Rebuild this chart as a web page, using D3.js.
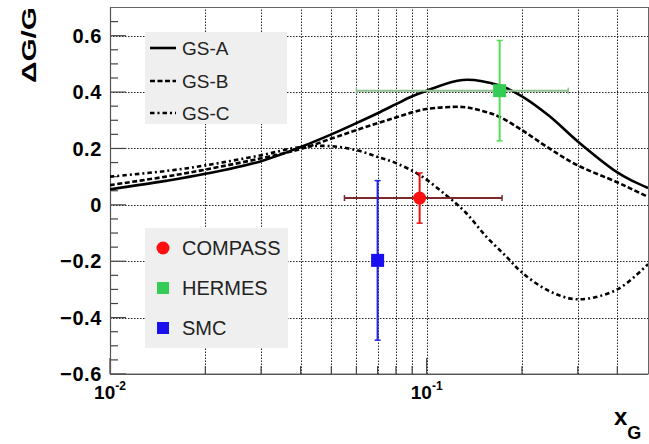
<!DOCTYPE html>
<html>
<head>
<meta charset="utf-8">
<script src="https://cdn.jsdelivr.net/npm/d3@7"></script>
<style>
  body { margin: 0; background: #fff; }
  text { font-family: "Liberation Sans", Arial, sans-serif; }
</style>
</head>
<body>
<div id="chart-area"></div>
<script>

// Curve data (x_G, DeltaG/G)
var gsA_x = [0.01, 0.015, 0.02, 0.03, 0.04, 0.05, 0.06, 0.07, 0.08, 0.09, 0.1, 0.13, 0.17, 0.2, 0.244, 0.3, 0.4, 0.45, 0.5];
var gsA_y = [0.055, 0.085, 0.11, 0.155, 0.205, 0.25, 0.29, 0.325, 0.357, 0.385, 0.405, 0.443, 0.423, 0.385, 0.315, 0.225, 0.115, 0.083, 0.06];

var gsB_x = [0.01, 0.015, 0.02, 0.03, 0.04, 0.05, 0.06, 0.07, 0.08, 0.09, 0.1, 0.13, 0.15, 0.17, 0.2, 0.244, 0.3, 0.4, 0.45, 0.5];
var gsB_y = [0.07, 0.1, 0.125, 0.165, 0.198, 0.235, 0.265, 0.29, 0.31, 0.328, 0.34, 0.347, 0.333, 0.312, 0.265, 0.2, 0.14, 0.08, 0.053, 0.028];

var gsC_x = [0.01, 0.015, 0.02, 0.03, 0.04, 0.05, 0.06, 0.07, 0.08, 0.095, 0.115, 0.133, 0.154, 0.178, 0.2, 0.244, 0.3, 0.4, 0.5];
var gsC_y = [0.10, 0.12, 0.14, 0.176, 0.205, 0.208, 0.194, 0.17, 0.148, 0.106, 0.035, -0.028, -0.112, -0.182, -0.24, -0.306, -0.335, -0.30, -0.21];

var curveNames = ["GS-A", "GS-B", "GS-C"];

// Measurements
var experiments = ["COMPASS", "HERMES", "SMC"];
var expX = [0.095, 0.17, 0.07];
var expY = [0.024, 0.405, -0.197];
var expYErr = [0.089, 0.178, 0.283];
var expXLo = [0.055, 0.06, null];
var expXHi = [0.173, 0.28, null];

// Axis ticks
var yMajor = [-0.6, -0.4, -0.2, 0, 0.2, 0.4, 0.6];
var xMajor = [0.01, 0.1];
var xMinor = [0.02, 0.03, 0.04, 0.05, 0.06, 0.07, 0.08, 0.09, 0.2, 0.3, 0.4];
var xTickLabels = ["-2", "-1"];

var width = 649, height = 444;

var svg = d3.select("#chart-area").append("svg")
    .attr("width", width)
    .attr("height", height);

// scales
var x = d3.scaleLog().domain([0.01, 0.5]).range([110, 648]);
var y = d3.scaleLinear().domain([-0.6, 0.7]).range([374, 7.5]);

var x0 = x.range()[0], x1 = x.range()[1];
var y0 = y.range()[0], y1 = y.range()[1];

// grid
var grid = svg.append("g").attr("class", "grid")
    .attr("stroke", "#222")
    .attr("stroke-width", 1)
    .attr("stroke-dasharray", "1.5,1.5");

grid.selectAll("line.h")
    .data(yMajor.filter(function(d){ return d > -0.6; }))
    .enter().append("line")
    .attr("class", "h")
    .attr("x1", x0).attr("x2", x1)
    .attr("y1", function(d){ return Math.round(y(d)) + 0.5; })
    .attr("y2", function(d){ return Math.round(y(d)) + 0.5; });

grid.selectAll("line.v")
    .data(xMinor.concat([0.1]))
    .enter().append("line")
    .attr("class", "v")
    .attr("y1", y0).attr("y2", y1)
    .attr("x1", function(d){ return Math.round(x(d)) + 0.5; })
    .attr("x2", function(d){ return Math.round(x(d)) + 0.5; });

// frame
svg.append("rect")
    .attr("x", x0 + 0.5).attr("y", y1)
    .attr("width", x1 - x0).attr("height", y0 - y1)
    .attr("fill", "none")
    .attr("stroke", "#666")
    .attr("stroke-width", 1);

// legend boxes (drawn above grid)
svg.append("rect")
    .attr("x", 145).attr("y", 32)
    .attr("width", 142).attr("height", 92)
    .attr("fill", "#efefef");

svg.append("rect")
    .attr("x", 145).attr("y", 228)
    .attr("width", 143).attr("height", 120)
    .attr("fill", "#efefef");

// y axis ticks
var yMinorTicks = d3.range(-0.55, 0.7, 0.05).filter(function(v){
    return Math.abs(Math.round(v * 5) - v * 5) > 0.01;
});
var axes = svg.append("g").attr("stroke", "#444").attr("stroke-width", 1.2);

axes.selectAll("line.ymaj")
    .data(yMajor)
    .enter().append("line")
    .attr("x1", x0).attr("x2", x0 + 16)
    .attr("y1", function(d){ return y(d); })
    .attr("y2", function(d){ return y(d); });

axes.selectAll("line.ymin")
    .data(yMinorTicks)
    .enter().append("line")
    .attr("x1", x0).attr("x2", x0 + 8)
    .attr("y1", function(d){ return y(d); })
    .attr("y2", function(d){ return y(d); });

// x axis ticks
axes.selectAll("line.xmaj")
    .data(xMajor)
    .enter().append("line")
    .attr("y1", y0).attr("y2", y0 - 16)
    .attr("x1", function(d){ return x(d); })
    .attr("x2", function(d){ return x(d); });

axes.selectAll("line.xmin")
    .data(xMinor)
    .enter().append("line")
    .attr("y1", y0).attr("y2", y0 - 8)
    .attr("x1", function(d){ return x(d); })
    .attr("x2", function(d){ return x(d); });

// axis lines
axes.append("line").attr("x1", x0 + 0.5).attr("x2", x0 + 0.5).attr("y1", y0).attr("y2", y1).attr("stroke", "#555");
axes.append("line").attr("x1", x0).attr("x2", x1).attr("y1", y0 + 0.5).attr("y2", y0 + 0.5).attr("stroke", "#555");

// y tick labels
svg.selectAll("text.ylab")
    .data(yMajor)
    .enter().append("text")
    .attr("class", "ylab")
    .attr("x", 102)
    .attr("y", function(d){ return y(d); })
    .attr("dy", "0.36em")
    .attr("text-anchor", "end")
    .attr("font-size", 20)
    .attr("font-weight", "bold")
    .attr("letter-spacing", 0.6)
    .text(function(d){ return d === 0 ? "0" : d3.format(".1f")(d); });

// x tick labels 10^n
xMajor.forEach(function(v, i){
    var t = svg.append("text")
        .attr("x", x(v))
        .attr("y", 399)
        .attr("text-anchor", "middle")
        .attr("font-size", 19)
        .attr("font-weight", "bold");
    t.append("tspan").text("10");
    t.append("tspan").attr("dy", -9).attr("font-size", 12).text(xTickLabels[i]);
});

// axis titles
svg.append("text")
    .attr("transform", "translate(36,7) rotate(-90)")
    .attr("text-anchor", "end")
    .attr("font-size", 21)
    .attr("font-weight", "bold")
    .attr("textLength", 76)
    .attr("lengthAdjust", "spacingAndGlyphs")
    .text("ΔG/G");

var xt = svg.append("text")
    .attr("x", 614)
    .attr("y", 425)
    .attr("font-weight", "bold")
    .attr("font-size", 24);
xt.append("tspan").text("x");
xt.append("tspan").attr("dy", 14).attr("font-size", 18).text("G");

// curves
var line = d3.line()
    .x(function(d){ return x(d[0]); })
    .y(function(d){ return y(d[1]); })
    .curve(d3.curveCatmullRom);

var curves = [
    { name: curveNames[0], data: d3.zip(gsA_x, gsA_y), dash: null },
    { name: curveNames[1], data: d3.zip(gsB_x, gsB_y), dash: "5,2.5" },
    { name: curveNames[2], data: d3.zip(gsC_x, gsC_y), dash: "4.5,3,2,3" }
];

var plot = svg.append("g");
plot.append("clipPath").attr("id", "clip")
    .append("rect").attr("x", x0).attr("y", y1).attr("width", x1 - x0).attr("height", y0 - y1);

plot.selectAll("path.curve")
    .data(curves)
    .enter().append("path")
    .attr("class", "curve")
    .attr("clip-path", "url(#clip)")
    .attr("d", function(d){ return line(d.data); })
    .attr("fill", "none")
    .attr("stroke", "#000")
    .attr("stroke-width", 2.6)
    .attr("stroke-dasharray", function(d){ return d.dash; });

// curve legend
var legYs = [48, 81, 113];
curves.forEach(function(c, i){
    svg.append("line")
        .attr("x1", 150).attr("x2", 176)
        .attr("y1", legYs[i]).attr("y2", legYs[i])
        .attr("stroke", "#000")
        .attr("stroke-width", 2.6)
        .attr("stroke-dasharray", c.dash);
    svg.append("text")
        .attr("x", 182).attr("y", legYs[i])
        .attr("dy", "0.36em")
        .attr("font-size", 19)
        .attr("fill", "#222")
        .text(c.name);
});

// measurements: error bars + markers
var hColors = ["#7a2a2a", "#8fbf8f", null];
var vColors = ["#ee1111", "#55dd55", "#2222ee"];
var mColors = ["#ff1010", "#33cc55", "#1a10ee"];
var cap = 3;

experiments.forEach(function(name, i){
    var cx = x(expX[i]), cy = y(expY[i]);
    var g = svg.append("g");
    if (expXLo[i] !== null) {
        var xa = x(expXLo[i]), xb = x(expXHi[i]);
        g.append("line").attr("x1", xa).attr("x2", xb).attr("y1", cy).attr("y2", cy)
            .attr("stroke", hColors[i]).attr("stroke-width", 2);
        g.append("line").attr("x1", xa).attr("x2", xa).attr("y1", cy - cap).attr("y2", cy + cap)
            .attr("stroke", hColors[i]).attr("stroke-width", 1.5);
        g.append("line").attr("x1", xb).attr("x2", xb).attr("y1", cy - cap).attr("y2", cy + cap)
            .attr("stroke", hColors[i]).attr("stroke-width", 1.5);
    }
    var ya = y(expY[i] + expYErr[i]), yb = y(expY[i] - expYErr[i]);
    g.append("line").attr("x1", cx).attr("x2", cx).attr("y1", ya).attr("y2", yb)
        .attr("stroke", vColors[i]).attr("stroke-width", 2);
    g.append("line").attr("x1", cx - cap).attr("x2", cx + cap).attr("y1", ya).attr("y2", ya)
        .attr("stroke", vColors[i]).attr("stroke-width", 1.5);
    g.append("line").attr("x1", cx - cap).attr("x2", cx + cap).attr("y1", yb).attr("y2", yb)
        .attr("stroke", vColors[i]).attr("stroke-width", 1.5);
    if (i === 0) {
        g.append("circle").attr("cx", cx).attr("cy", cy).attr("r", 6.5).attr("fill", mColors[i]);
    } else {
        g.append("rect").attr("x", cx - 6.5).attr("y", cy - 6.5).attr("width", 13).attr("height", 13)
            .attr("fill", mColors[i]);
    }
});

// measurement legend
var leg2Ys = [248, 288, 328];
experiments.forEach(function(name, i){
    if (i === 0) {
        svg.append("circle").attr("cx", 163).attr("cy", leg2Ys[i]).attr("r", 6.5).attr("fill", mColors[i]);
    } else {
        svg.append("rect").attr("x", 157).attr("y", leg2Ys[i] - 6).attr("width", 12).attr("height", 12)
            .attr("fill", mColors[i]);
    }
    svg.append("text")
        .attr("x", 182).attr("y", leg2Ys[i])
        .attr("dy", "0.36em")
        .attr("font-size", 20)
        .attr("fill", "#222")
        .text(name);
});

</script>
</body>
</html>
